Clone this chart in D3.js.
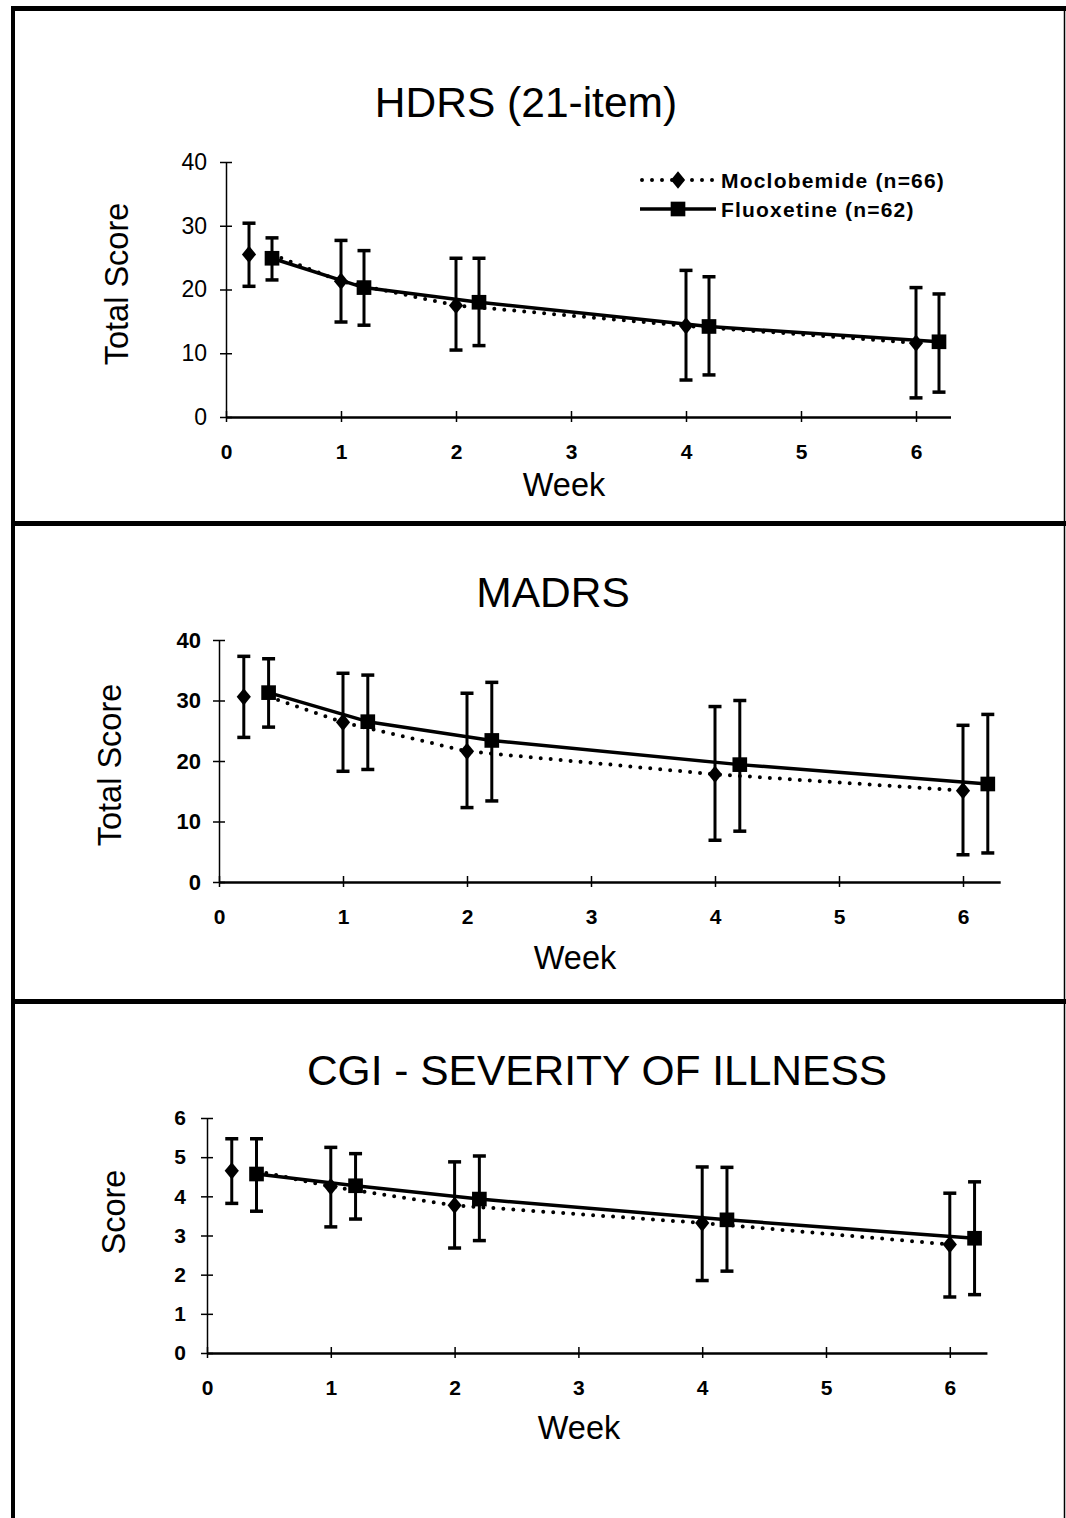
<!DOCTYPE html>
<html>
<head>
<meta charset="utf-8">
<script src="https://cdn.jsdelivr.net/npm/d3@7"></script>
<style>
  body { margin: 0; background: #fff; }
  svg { display: block; font-family: "Liberation Sans", Arial, sans-serif; }
</style>
</head>
<body>
<script>
'use strict';

// week positions (moclobemide plotted at the week, fluoxetine shifted right)
const weekTicks = [0, 1, 2, 3, 4, 5, 6];
const mocWeeks = [0.2, 1, 2, 4, 6];
const fluWeeks = [0.4, 1.2, 2.2, 4.2, 6.2];
const mocLineWeeks = [0.4, 1, 2, 4, 6];

// HDRS (21-item)
const hdrsMoc = [25.5, 21.3, 17.5, 14.3, 11.6];
const hdrsMocHi = [30.4, 27.7, 24.9, 23.0, 20.3];
const hdrsMocLo = [20.5, 14.9, 10.5, 5.8, 3.0];
const hdrsFlu = [24.9, 20.3, 18.0, 14.2, 11.8];
const hdrsFluHi = [28.1, 26.1, 24.9, 22.0, 19.3];
const hdrsFluLo = [21.5, 14.4, 11.2, 6.6, 3.9];
const hdrsTicks = [0, 10, 20, 30, 40];

// MADRS
const madrsMoc = [30.6, 26.4, 21.6, 17.8, 15.1];
const madrsMocHi = [37.3, 34.5, 31.2, 29.0, 25.9];
const madrsMocLo = [23.9, 18.3, 12.3, 6.9, 4.5];
const madrsFlu = [31.3, 26.5, 23.4, 19.4, 16.2];
const madrsFluHi = [36.9, 34.2, 33.0, 30.0, 27.7];
const madrsFluLo = [25.6, 18.6, 13.4, 8.4, 4.8];
const madrsTicks = [0, 10, 20, 30, 40];

// CGI - severity of illness
const cgiMoc = [4.65, 4.25, 3.77, 3.32, 2.77];
const cgiMocHi = [5.47, 5.25, 4.88, 4.75, 4.08];
const cgiMocLo = [3.82, 3.22, 2.68, 1.85, 1.43];
const cgiFlu = [4.57, 4.27, 3.93, 3.40, 2.93];
const cgiFluHi = [5.47, 5.09, 5.03, 4.74, 4.37];
const cgiFluLo = [3.62, 3.42, 2.87, 2.09, 1.49];
const cgiTicks = [0, 1, 2, 3, 4, 5, 6];

const legendLabels = ["Moclobemide (n=66)", "Fluoxetine (n=62)"];

(function () {
  const svg = d3.select('body').append('svg')
    .attr('width', 1066)
    .attr('height', 1518);

  // outer frame and dividers
  const frame = svg.append('g').attr('stroke', '#000').attr('fill', 'none');
  frame.append('line').attr('x1', 11).attr('x2', 1066).attr('y1', 8.5).attr('y2', 8.5).attr('stroke-width', 5);
  frame.append('line').attr('x1', 13).attr('x2', 13).attr('y1', 6).attr('y2', 1518).attr('stroke-width', 4);
  frame.append('line').attr('x1', 1064.5).attr('x2', 1064.5).attr('y1', 8).attr('y2', 1518).attr('stroke-width', 1.5);
  frame.append('line').attr('x1', 11).attr('x2', 1066).attr('y1', 523.5).attr('y2', 523.5).attr('stroke-width', 5);
  frame.append('line').attr('x1', 11).attr('x2', 1066).attr('y1', 1001.5).attr('y2', 1001.5).attr('stroke-width', 5);

  const diamond = d3.symbol().type(d3.symbolSquare).size(150);
  const diamondTurn = ' scale(0.82,1) rotate(45)';
  const square = d3.symbol().type(d3.symbolSquare).size(215);

  // draw one panel
  function drawPanel(p) {
    const g = svg.append('g');

    let xScale = d3.scaleLinear()
      .domain([0, 6.3])
      .range([p.left, p.left + 6.3 * p.week]);
    let yScale = d3.scaleLinear()
      .domain([0, p.yMax])
      .range([p.bottom, p.top]);

    // x axis
    let xAxis = d3.axisBottom(xScale).tickValues(weekTicks).tickSizeInner(5).tickSizeOuter(0)
      .tickPadding(22).tickFormat(d3.format('d'));
    let gx = g.append('g')
      .attr('transform', 'translate(0,' + p.bottom + ')')
      .call(xAxis);
    gx.select('.domain').attr('stroke-width', 2.5);
    gx.selectAll('.tick line').attr('y1', -6).attr('stroke-width', 1.5);
    gx.selectAll('.tick text')
      .style('font-size', '21px').style('font-weight', 'bold')
      .attr('fill', '#000');

    // y axis
    let yAxis = d3.axisLeft(yScale).tickValues(p.ticks).tickSizeInner(6).tickSizeOuter(0)
      .tickPadding(p.yPad).tickFormat(d3.format('d'));
    let gy = g.append('g')
      .attr('transform', 'translate(' + p.left + ',0)')
      .call(yAxis);
    gy.select('.domain').attr('stroke-width', 1.5);
    gy.selectAll('.tick line').attr('x1', 6).attr('stroke-width', 1.5);
    gy.selectAll('.tick text')
      .style('font-size', p.yFont).style('font-weight', p.yWeight)
      .attr('fill', '#000');

    // trend lines
    let line = d3.line()
      .x(d => xScale(d[0]))
      .y(d => yScale(d[1]));

    g.append('path')
      .datum(d3.zip(mocLineWeeks, p.moc))
      .attr('fill', 'none')
      .attr('stroke', '#000')
      .attr('stroke-width', 4)
      .attr('stroke-linecap', 'round')
      .attr('stroke-dasharray', '0 10')
      .attr('d', line);

    g.append('path')
      .datum(d3.zip(fluWeeks, p.flu))
      .attr('fill', 'none')
      .attr('stroke', '#000')
      .attr('stroke-width', 3.5)
      .attr('stroke-linejoin', 'round')
      .attr('d', line);

    // error bars
    function errorBars(xs, lo, hi) {
      let rows = d3.zip(xs, lo, hi);
      let eb = g.append('g').attr('stroke', '#000').attr('stroke-width', 3);
      eb.selectAll('.v').data(rows).enter().append('line')
        .attr('x1', d => xScale(d[0])).attr('x2', d => xScale(d[0]))
        .attr('y1', d => yScale(d[1])).attr('y2', d => yScale(d[2]));
      eb.selectAll('.hi').data(rows).enter().append('line')
        .attr('x1', d => xScale(d[0]) - 6.5).attr('x2', d => xScale(d[0]) + 6.5)
        .attr('y1', d => yScale(d[2])).attr('y2', d => yScale(d[2]))
        .attr('stroke-width', 3.5);
      eb.selectAll('.lo').data(rows).enter().append('line')
        .attr('x1', d => xScale(d[0]) - 6.5).attr('x2', d => xScale(d[0]) + 6.5)
        .attr('y1', d => yScale(d[1])).attr('y2', d => yScale(d[1]))
        .attr('stroke-width', 3.5);
    }
    errorBars(mocWeeks, p.mocLo, p.mocHi);
    errorBars(fluWeeks, p.fluLo, p.fluHi);

    // markers
    g.selectAll('.moc').data(d3.zip(mocWeeks, p.moc)).enter().append('path')
      .attr('d', diamond)
      .attr('transform', d => 'translate(' + xScale(d[0]) + ',' + yScale(d[1]) + ')' + diamondTurn)
      .attr('fill', '#000');
    g.selectAll('.flu').data(d3.zip(fluWeeks, p.flu)).enter().append('path')
      .attr('d', square)
      .attr('transform', d => 'translate(' + xScale(d[0]) + ',' + yScale(d[1]) + ')')
      .attr('fill', '#000');

    // titles and labels
    g.append('text')
      .attr('x', p.titleX).attr('y', p.titleY)
      .attr('text-anchor', 'middle')
      .style('font-size', '42.5px')
      .text(p.title);

    g.append('text')
      .attr('transform', 'translate(' + p.yLabelX + ',' + p.yLabelY + ') rotate(-90)')
      .attr('text-anchor', 'middle')
      .style('font-size', '32.5px')
      .text(p.yLabel);

    g.append('text')
      .attr('x', p.xLabelX).attr('y', p.xLabelY)
      .attr('text-anchor', 'middle')
      .style('font-size', '32.5px')
      .text('Week');
  }

  drawPanel({
    title: 'HDRS (21-item)', titleX: 526, titleY: 117,
    yLabel: 'Total Score', yLabelX: 128, yLabelY: 284,
    xLabelX: 564, xLabelY: 496,
    left: 226, week: 115, bottom: 417, top: 162, yMax: 40, ticks: hdrsTicks,
    yPad: 13, yFont: '23px', yWeight: 'normal',
    moc: hdrsMoc, mocHi: hdrsMocHi, mocLo: hdrsMocLo,
    flu: hdrsFlu, fluHi: hdrsFluHi, fluLo: hdrsFluLo
  });

  drawPanel({
    title: 'MADRS', titleX: 553, titleY: 607,
    yLabel: 'Total Score', yLabelX: 121, yLabelY: 765,
    xLabelX: 575, xLabelY: 969,
    left: 219, week: 124, bottom: 882, top: 640, yMax: 40, ticks: madrsTicks,
    yPad: 12, yFont: '22px', yWeight: 'bold',
    moc: madrsMoc, mocHi: madrsMocHi, mocLo: madrsMocLo,
    flu: madrsFlu, fluHi: madrsFluHi, fluLo: madrsFluLo
  });

  drawPanel({
    title: 'CGI - SEVERITY OF ILLNESS', titleX: 597, titleY: 1085,
    yLabel: 'Score', yLabelX: 125, yLabelY: 1212,
    xLabelX: 579, xLabelY: 1439,
    left: 207, week: 123.8, bottom: 1353, top: 1118, yMax: 6, ticks: cgiTicks,
    yPad: 15, yFont: '21px', yWeight: 'bold',
    moc: cgiMoc, mocHi: cgiMocHi, mocLo: cgiMocLo,
    flu: cgiFlu, fluHi: cgiFluHi, fluLo: cgiFluLo
  });

  // legend (top panel)
  const legend = svg.append('g');
  const legendRows = [180, 209];
  legend.append('line')
    .attr('x1', 642).attr('x2', 716).attr('y1', legendRows[0]).attr('y2', legendRows[0])
    .attr('stroke', '#000').attr('stroke-width', 4)
    .attr('stroke-linecap', 'round').attr('stroke-dasharray', '0 10');
  legend.append('path').attr('d', diamond)
    .attr('transform', 'translate(678,' + legendRows[0] + ')' + diamondTurn);
  legend.append('line')
    .attr('x1', 640).attr('x2', 716).attr('y1', legendRows[1]).attr('y2', legendRows[1])
    .attr('stroke', '#000').attr('stroke-width', 3.5);
  legend.append('path').attr('d', square)
    .attr('transform', 'translate(678,' + legendRows[1] + ')');
  legend.selectAll('.lt').data(legendLabels).enter().append('text')
    .attr('x', 721)
    .attr('y', (d, i) => legendRows[i] + 7.5)
    .style('font-size', '21px').style('font-weight', 'bold')
    .style('letter-spacing', '1.2px')
    .text(d => d);
})();
</script>
</body>
</html>
